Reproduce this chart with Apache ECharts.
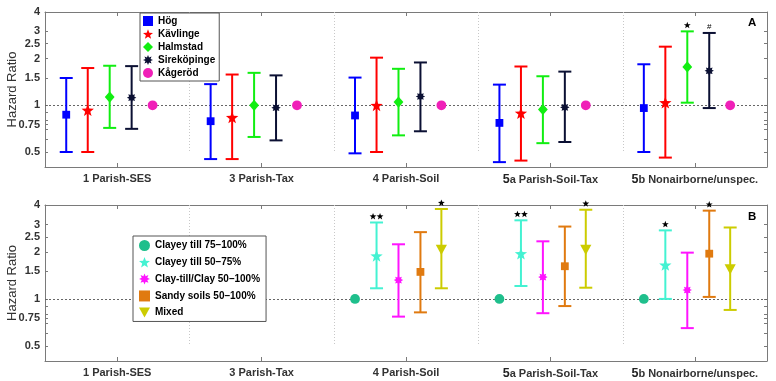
<!DOCTYPE html>
<html><head><meta charset="utf-8">
<script src="https://cdn.jsdelivr.net/npm/echarts@6/dist/echarts.min.js"></script>
<style>html,body{margin:0;padding:0;background:#fff}#c{width:776px;height:381px}</style>
</head><body><div id="c"></div>
<script>
const categories = ['1 Parish-SES','3 Parish-Tax','4 Parish-Soil','5a Parish-Soil-Tax','5b Nonairborne/unspec.'];
const yTicks = [0.5,0.75,1,1.5,2,2.5,3,4];
const yMinorTicks = [0.6,0.7,0.8,0.9];

// Panel A
const namesA = ['Hög','Kävlinge','Halmstad','Sireköpinge','Kågeröd'];
const hogEst = [0.87,0.79,0.86,0.77,0.96];
const hogLo  = [0.50,0.45,0.49,0.43,0.50];
const hogHi  = [1.50,1.37,1.51,1.36,1.84];
const kavEst = [0.93,0.835,1.00,0.89,1.04];
const kavLo  = [0.50,0.45,0.50,0.44,0.46];
const kavHi  = [1.74,1.58,2.03,1.78,2.39];
const halEst = [1.13,1.00,1.05,0.94,1.77];
const halLo  = [0.715,0.625,0.64,0.57,1.04];
const halHi  = [1.80,1.62,1.72,1.54,3.00];
const sirEst = [1.12,0.965,1.14,0.97,1.67];
const sirLo  = [0.705,0.594,0.68,0.58,0.96];
const sirHi  = [1.79,1.56,1.89,1.65,2.93];
const kagEst = [1,1,1,1,1];
const halNote = ['','','','','*'];
const sirNote = ['','','','','#'];

// Panel B
const namesB = ['Clayey till 75–100%','Clayey till 50–75%','Clay-till/Clay 50–100%','Sandy soils 50–100%','Mixed'];
const c75Est = [null,null,1,1,1];
const c50Est = [null,null,1.89,1.95,1.65];
const c50Lo  = [null,null,1.17,1.21,1.00];
const c50Hi  = [null,null,3.09,3.19,2.75];
const ctEst  = [null,null,1.32,1.38,1.14];
const ctLo   = [null,null,0.77,0.81,0.65];
const ctHi   = [null,null,2.24,2.34,1.98];
const sanEst = [null,null,1.49,1.62,1.95];
const sanLo  = [null,null,0.82,0.90,1.03];
const sanHi  = [null,null,2.68,2.91,3.68];
const mixEst = [null,null,2.08,2.08,1.56];
const mixLo  = [null,null,1.17,1.18,0.85];
const mixHi  = [null,null,3.77,3.73,2.87];
const c50Note = ['','','**','**','*'];
const sanNote = ['','','','','*'];
const mixNote = ['','','*','*',''];

const FONT = 'Liberation Sans, Arial, sans-serif';

function starPoints(cx, cy, rOut, rIn, n) {
  const pts = [];
  for (let k = 0; k < 2*n; k++) {
    const r = k % 2 === 0 ? rOut : rIn;
    const a = -Math.PI/2 + k*Math.PI/n;
    pts.push([cx + r*Math.cos(a), cy + r*Math.sin(a)]);
  }
  return pts;
}
function pathFrom(pts){ return 'path://M' + pts.map(p=>p[0].toFixed(2)+','+p[1].toFixed(2)).join('L') + 'Z'; }
const star5Icon = pathFrom(starPoints(10,10,10,4.2,5));
const star8Icon = pathFrom(starPoints(10,10,10,5.5,8));
const triIcon = 'path://M0,0L10,0L5,9Z';

function markerShape(shape, x, y, color) {
  switch (shape) {
    case 'square': return {type:'rect', shape:{x:x-3.9,y:y-3.9,width:7.8,height:7.8}, style:{fill:color}};
    case 'star5': return {type:'polygon', shape:{points:starPoints(x,y+0.6,6.5,2.7,5)}, style:{fill:color}};
    case 'diamond': return {type:'polygon', shape:{points:[[x,y-5.6],[x+4.9,y],[x,y+5.6],[x-4.9,y]]}, style:{fill:color}};
    case 'star8': return {type:'polygon', shape:{points:starPoints(x,y,4.7,2.8,8)}, style:{fill:color}};
    case 'circle': return {type:'circle', shape:{cx:x,cy:y,r:4.9}, style:{fill:color}};
    case 'tri': return {type:'polygon', shape:{points:[[x-5.6,y-4.6],[x+5.6,y-4.6],[x,y+5.6]]}, style:{fill:color}};
  }
}
function noteShapes(note, x, y) {
  const out = [];
  if (!note) return out;
  if (note === '#') {
    out.push({type:'text', style:{text:'#', x:x, y:y, align:'center', verticalAlign:'middle', font:'8px '+FONT, fill:'#000'}});
    return out;
  }
  const n = note.length;
  for (let k = 0; k < n; k++) {
    const cx = x + (k - (n-1)/2) * 7;
    out.push({type:'polygon', shape:{points:starPoints(cx, y, 3.6, 1.5, 5)}, style:{fill:'#000'}});
  }
  return out;
}

function errSeries(name, g, offset, shape, color, est, lo, hi, notes) {
  return {
    name: name, type:'custom', xAxisIndex: g*2, yAxisIndex: g*2, z: 5,
    itemStyle: {color: color},
    data: est.map((v,i)=>[i, v]).filter(d => d[1] != null),
    renderItem: function(params, api) {
      const i = api.value(0);
      const bw = api.size([1, 0], [i, 1])[0];
      const p = api.coord([i, api.value(1)]);
      const x = p[0] + offset * bw;
      const ch = [];
      if (lo && lo[i] != null) {
        const yl = api.coord([i, lo[i]])[1], yh = api.coord([i, hi[i]])[1];
        const st = {stroke: color, lineWidth: 2};
        ch.push({type:'line', shape:{x1:x,y1:yl,x2:x,y2:yh}, style:st});
        ch.push({type:'line', shape:{x1:x-6.5,y1:yl,x2:x+6.5,y2:yl}, style:st});
        ch.push({type:'line', shape:{x1:x-6.5,y1:yh,x2:x+6.5,y2:yh}, style:st});
        if (notes) noteShapes(notes[i], x, yh - 6).forEach(s => ch.push(s));
      }
      ch.push(markerShape(shape, x, p[1], color));
      return {type:'group', children: ch};
    }
  };
}

function guideSeries(g) {
  return {
    type:'custom', xAxisIndex:g*2, yAxisIndex:g*2, silent:true, z:1,
    data: [[0,1],[1,1],[2,1],[3,1]],
    renderItem: function(params, api) {
      const i = api.value(0);
      const bw = api.size([1,0],[i,1])[0];
      const top = api.coord([i, yTicks[yTicks.length-1]])[1];
      const bot = api.coord([i, yTicks[0]])[1];
      const x = Math.round(api.coord([i, 1])[0] + bw/2) + 0.5;
      const ch = [{type:'line', shape:{x1:x,y1:top,x2:x,y2:bot}, style:{stroke:'#c8c8c8', lineWidth:1, lineDash:[1,2]}}];
      if (i === 0) {
        const cs = params.coordSys;
        const y = Math.round(api.coord([0, 1])[1]) + 0.5;
        ch.push({type:'line', shape:{x1:cs.x,y1:y,x2:cs.x+cs.width,y2:y}, style:{stroke:'#666', lineWidth:1, lineDash:[2,2]}});
      }
      return {type:'group', children: ch};
    }
  };
}

const lineSt = {color:'#7a7a7a', width:1};
function xAxes(g) {
  return [
    {type:'category', gridIndex:g, data:categories, position:'bottom',
     axisLine:{show:true, lineStyle:lineSt},
     axisTick:{show:true, inside:true, alignWithLabel:true, interval:0, length:4, lineStyle:lineSt},
     axisLabel:{interval:0, hideOverlap:false, margin:6, fontSize:11, fontWeight:'bold', color:'#333', fontFamily:FONT,
       formatter: v => v.charAt(0) === '5' ? '{n|5}' + v.slice(1) : v,
       rich:{n:{fontSize:12.5, fontWeight:'bolder', color:'#222', fontFamily:FONT}}},
     splitLine:{show:false}},
    {type:'category', gridIndex:g, data:categories, position:'top',
     axisLine:{show:true, lineStyle:lineSt},
     axisTick:{show:true, inside:true, alignWithLabel:true, interval:0, length:4, lineStyle:lineSt},
     axisLabel:{show:false}, splitLine:{show:false}}
  ];
}
function yAxes(g) {
  return [
    {type:'log', gridIndex:g, min:0.4, max:4, position:'left',
     name:'Hazard Ratio', nameLocation:'middle', nameGap:26, nameMoveOverlap:false,
     nameTextStyle:{fontSize:13, color:'#333', fontFamily:FONT},
     axisLine:{show:true, lineStyle:lineSt},
     axisTick:{show:true, inside:true, length:3, customValues: yTicks.concat(yMinorTicks), lineStyle:lineSt},
     axisLabel:{customValues: yTicks, margin:5, fontSize:11, fontWeight:'bold', color:'#333', fontFamily:FONT,
       formatter: v => String(+(+v).toFixed(2))},
     splitLine:{show:false}, minorTick:{show:false}},
    {type:'log', gridIndex:g, min:0.4, max:4, position:'right',
     axisLine:{show:true, lineStyle:lineSt},
     axisTick:{show:true, inside:true, length:3, customValues: yTicks.concat(yMinorTicks), lineStyle:lineSt},
     axisLabel:{show:false}, splitLine:{show:false}}
  ];
}

const legendBase = {orient:'vertical', selectedMode:false, borderColor:'#555', borderWidth:1,
  backgroundColor:'#fff', textStyle:{fontSize:10, fontWeight:'bold', color:'#000', fontFamily:FONT}, z:10};

const option = {
  animation:false,
  backgroundColor:'#fff',
  grid:[
    {left:45, right:9, top:12, height:155, containLabel:false, outerBoundsMode:'none'},
    {left:45, right:9, top:205, height:156, containLabel:false, outerBoundsMode:'none'}
  ],
  xAxis: xAxes(0).concat(xAxes(1)),
  yAxis: yAxes(0).concat(yAxes(1)),
  legend:[
    Object.assign({}, legendBase, {left:140, top:13, itemWidth:10, itemHeight:10, itemGap:3, padding:[3,4,3,3],
      data:[{name:namesA[0], icon:'rect'},{name:namesA[1], icon:star5Icon},{name:namesA[2], icon:'diamond'},
            {name:namesA[3], icon:star8Icon},{name:namesA[4], icon:'circle'}]}),
    Object.assign({}, legendBase, {left:133, top:236, itemWidth:11, itemHeight:11, itemGap:6, padding:[4,6,4,6],
      data:[{name:namesB[0], icon:'circle'},{name:namesB[1], icon:star5Icon},{name:namesB[2], icon:star8Icon},
            {name:namesB[3], icon:'rect'},{name:namesB[4], icon:triIcon}]})
  ],
  graphic:[
    {type:'text', left:748, top:17, style:{text:'A', font:'bold 11.5px '+FONT, fill:'#000'}},
    {type:'text', left:748, top:211, style:{text:'B', font:'bold 11.5px '+FONT, fill:'#000'}}
  ],
  series:[
    guideSeries(0), guideSeries(1),
    errSeries(namesA[0], 0, -0.353, 'square', '#0000ff', hogEst, hogLo, hogHi, null),
    errSeries(namesA[1], 0, -0.204, 'star5', '#ff0000', kavEst, kavLo, kavHi, null),
    errSeries(namesA[2], 0, -0.052, 'diamond', '#11ee11', halEst, halLo, halHi, halNote),
    errSeries(namesA[3], 0, 0.100, 'star8', '#0b1033', sirEst, sirLo, sirHi, sirNote),
    errSeries(namesA[4], 0, 0.245, 'circle', '#f020b8', kagEst, null, null, null),
    errSeries(namesB[0], 1, -0.353, 'circle', '#1fbf8c', c75Est, null, null, null),
    errSeries(namesB[1], 1, -0.204, 'star5', '#44f2d2', c50Est, c50Lo, c50Hi, c50Note),
    errSeries(namesB[2], 1, -0.052, 'star8', '#ff14ff', ctEst, ctLo, ctHi, null),
    errSeries(namesB[3], 1, 0.100, 'square', '#e07a10', sanEst, sanLo, sanHi, sanNote),
    errSeries(namesB[4], 1, 0.245, 'tri', '#cccc00', mixEst, mixLo, mixHi, mixNote)
  ]
};
const chart = echarts.init(document.getElementById('c'), null, {renderer:'canvas'});
chart.setOption(option);
</script></body></html>
